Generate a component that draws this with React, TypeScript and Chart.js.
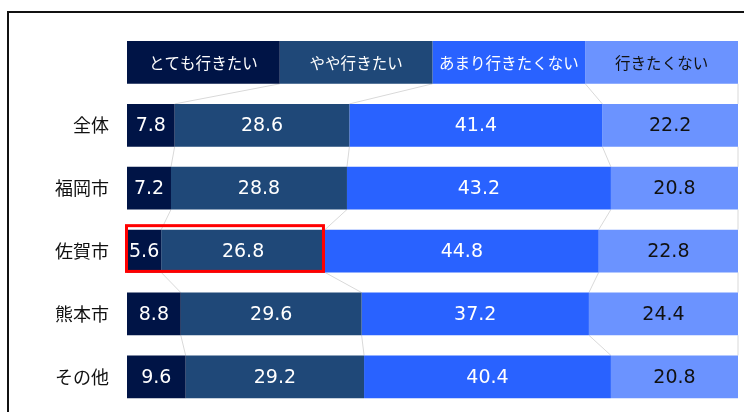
import React, { useEffect, useRef } from "react";
import { Chart, registerables } from "chart.js";

Chart.register(...registerables);

const categories = ["", "全体", "福岡市", "佐賀市", "熊本市", "その他"];
const seriesNames = ["とても行きたい", "やや行きたい", "あまり行きたくない", "行きたくない"];
// first entry of every series is the legend/header row (equal shares)
const veryMuch = [25, 7.8, 7.2, 5.6, 8.8, 9.6];
const somewhat = [25, 28.6, 28.8, 26.8, 29.6, 29.2];
const notMuch = [25, 41.4, 43.2, 44.8, 37.2, 40.4];
const notAtAll = [25, 22.2, 20.8, 22.8, 24.4, 20.8];
const highlightRow = 3; // 佐賀市
const highlightSeriesCount = 2;

const colors = ["#001446", "#1F4878", "#2962FF", "#6B93FF"];
const labelColors = ["#ffffff", "#ffffff", "#ffffff", "#111111"];

const labelPlugin = {
  id: "segLabels",
  afterDatasetsDraw(chart: any) {
    const ctx = chart.ctx;
    ctx.save();
    ctx.textAlign = "center";
    ctx.textBaseline = "middle";
    chart.data.datasets.forEach((ds: any, di: number) => {
      const meta = chart.getDatasetMeta(di);
      meta.data.forEach((bar: any, i: number) => {
        const cx = (bar.x + bar.base) / 2;
        ctx.fillStyle = labelColors[di];
        if (i === 0) {
          ctx.font = "15.5px 'Noto Sans CJK JP', sans-serif";
          ctx.fillText(ds.label, cx, bar.y + 1);
        } else {
          ctx.font = "19px 'DejaVu Sans', sans-serif";
          ctx.fillText(Number(ds.data[i]).toFixed(1), cx, bar.y + 1);
        }
      });
    });
    // highlight box
    const m0 = chart.getDatasetMeta(0).data[highlightRow];
    const mN = chart.getDatasetMeta(highlightSeriesCount - 1).data[highlightRow];
    if (m0 && mN) {
      ctx.strokeStyle = "#FF0000";
      ctx.lineWidth = 3;
      const top = m0.y - m0.height / 2 - 4;
      const bottom = m0.y + m0.height / 2 - 1;
      ctx.strokeRect(m0.base - 0.5, top, mN.x - 1.5 - (m0.base - 0.5), bottom - top);
    }
    ctx.restore();
  },
  beforeDatasetsDraw(chart: any) {
    const ctx = chart.ctx;
    ctx.save();
    ctx.strokeStyle = "#d9d9d9";
    ctx.lineWidth = 1;
    const n = chart.data.labels.length;
    const nd = chart.data.datasets.length;
    for (let i = 0; i < n - 1; i++) {
      for (let d = 0; d < nd; d++) {
        const a = chart.getDatasetMeta(d).data[i];
        const b = chart.getDatasetMeta(d).data[i + 1];
        ctx.beginPath();
        ctx.moveTo(a.x, a.y + a.height / 2);
        ctx.lineTo(b.x, b.y - b.height / 2);
        ctx.stroke();
      }
    }
    ctx.restore();
  },
};

export default function App() {
  const ref = useRef<HTMLCanvasElement>(null);
  useEffect(() => {
    const series = [veryMuch, somewhat, notMuch, notAtAll];
    const chart = new Chart(ref.current as HTMLCanvasElement, {
      type: "bar",
      data: {
        labels: categories,
        datasets: series.map((d, i) => ({
          label: seriesNames[i],
          data: d,
          backgroundColor: colors[i],
          borderWidth: 0,
          categoryPercentage: 1,
          barPercentage: 0.68,
        })),
      },
      options: {
        indexAxis: "y",
        animation: false,
        responsive: false,
        devicePixelRatio: 1,
        layout: { padding: { left: 0, right: 6, top: 31, bottom: 2 } },
        plugins: { legend: { display: false }, tooltip: { enabled: false } },
        scales: {
          x: { stacked: true, min: 0, max: 100, display: false },
          y: {
            stacked: true,
            grid: { display: false, drawTicks: false },
            border: { display: false },
            ticks: {
              color: "#111",
              padding: 18,
              font: { family: "'Noto Sans CJK JP', sans-serif", size: 18 },
            },
            afterFit(scale: any) {
              scale.width = 127;
            },
          },
        },
      },
      plugins: [labelPlugin],
    } as any);
    return () => chart.destroy();
  }, []);
  return (
    <div style={{ position: "absolute", left: 0, top: 0, width: 744, height: 412, background: "#fff", overflow: "hidden" }}>
      <div
        style={{
          position: "absolute",
          left: 7,
          top: 11,
          width: 737,
          height: 401,
          borderLeft: "2px solid #111",
          borderTop: "2px solid #111",
          boxSizing: "border-box",
        }}
      />
      <canvas
        ref={ref}
        width={744}
        height={437}
        style={{ position: "absolute", left: 0, top: 0, width: 744, height: 437 }}
      />
    </div>
  );
}
